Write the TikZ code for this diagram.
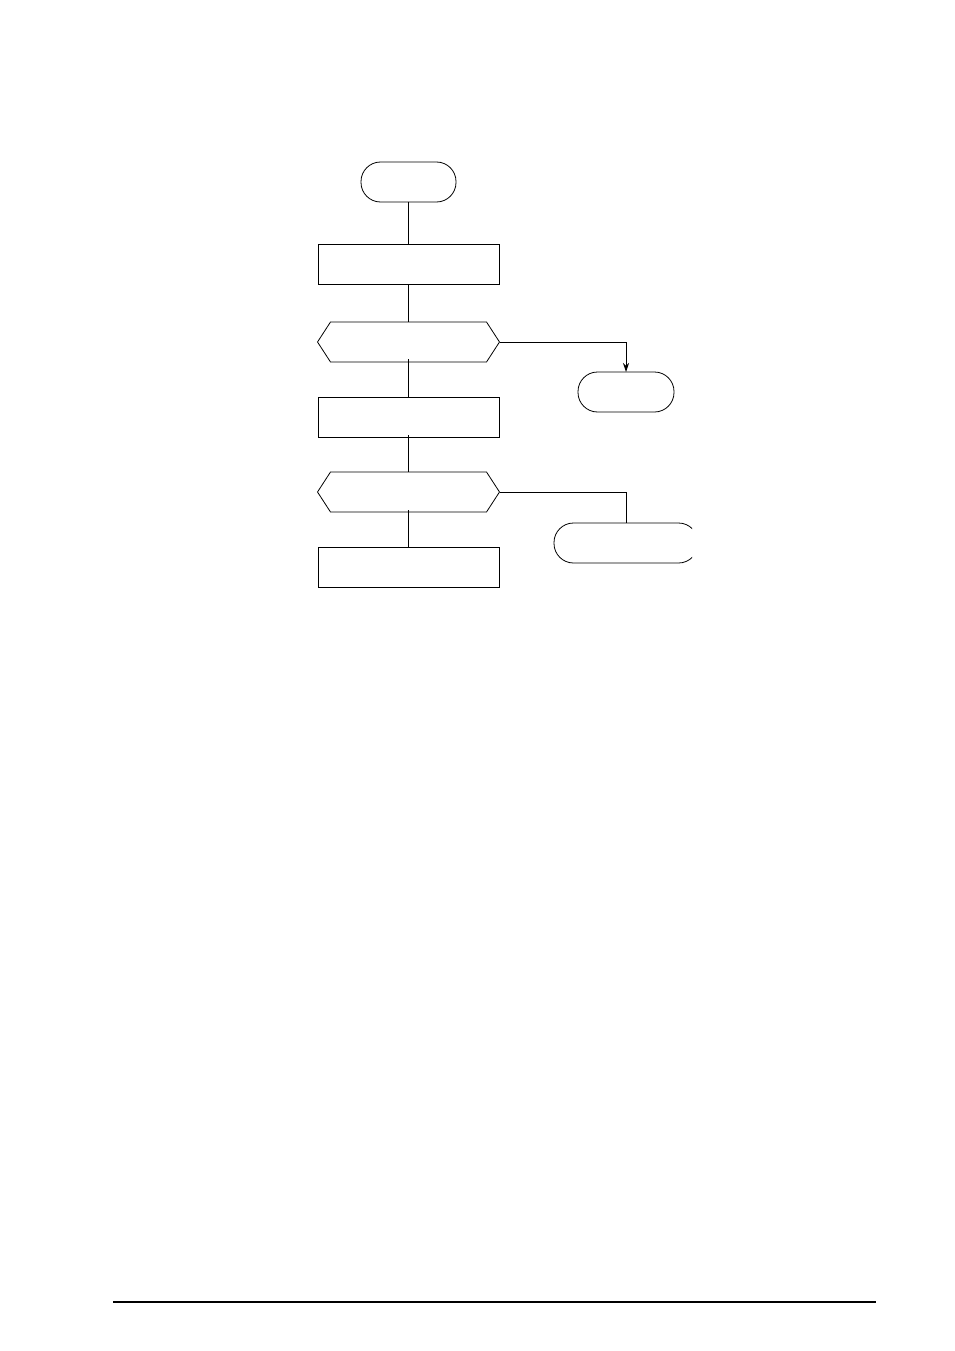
\documentclass[tikz,border=0pt]{standalone}
\usetikzlibrary{arrows.meta}
\begin{document}
\begin{tikzpicture}[x=1pt,y=-1pt,line width=0.8pt,
  procbox/.style={draw,rectangle,minimum width=181pt,minimum height=40pt,inner sep=0pt,outer sep=0pt},
  termbox/.style={draw,rectangle,rounded corners=19.5pt,minimum height=40pt,inner sep=0pt,outer sep=0pt},
  hexbox/.style={rectangle,minimum width=182pt,minimum height=40pt,inner sep=0pt,outer sep=0pt},
  hexline/.style={draw,line join=miter},
  conn/.style={draw}]
\useasboundingbox (0,0) rectangle (954,1351);
% nodes
\node[termbox,minimum width=95pt] (start) at (408.5,182) {};
\node[procbox] (b1) at (408.5,264) {};
\node[hexbox] (h1) at (408.5,342) {};
\node[procbox] (b2) at (408.5,417) {};
\node[hexbox] (h2) at (408.5,492) {};
\node[procbox] (b3) at (408.5,567) {};
\node[termbox,minimum width=96pt] (t2) at (626,392) {};
\begin{scope}
\clip (540,510) rectangle (692,580);
\node[termbox,minimum width=144pt] (t3) at (626,543) {};
\end{scope}
% hexagons
\draw[hexline] (h1.west) -- ([xshift=13pt]h1.north west) -- ([xshift=-13pt]h1.north east) -- (h1.east) -- ([xshift=-13pt]h1.south east) -- ([xshift=13pt]h1.south west) -- cycle;
\draw[hexline] (h2.west) -- ([xshift=13pt]h2.north west) -- ([xshift=-13pt]h2.north east) -- (h2.east) -- ([xshift=-13pt]h2.south east) -- ([xshift=13pt]h2.south west) -- cycle;
% connectors
\draw[conn] (start.south) -- (b1.north);
\draw[conn] (b1.south) -- (h1.north);
\draw[conn] ([yshift=3pt]h1.south) -- (b2.north);
\draw[conn] ([yshift=2pt]b2.south) -- (h2.north);
\draw[conn] ([yshift=2pt]h2.south) -- (b3.north);
\draw[conn,-{Stealth[length=9pt,width=6pt]}] (h1.east) -| (t2.north);
\draw[conn] (h2.east) -| (t3.north);
% footer rule
\coordinate (fl) at (113,1302);
\coordinate (fr) at (876,1302);
\draw[line width=1.2pt] (fl) -- (fr);
\end{tikzpicture}
\end{document}
